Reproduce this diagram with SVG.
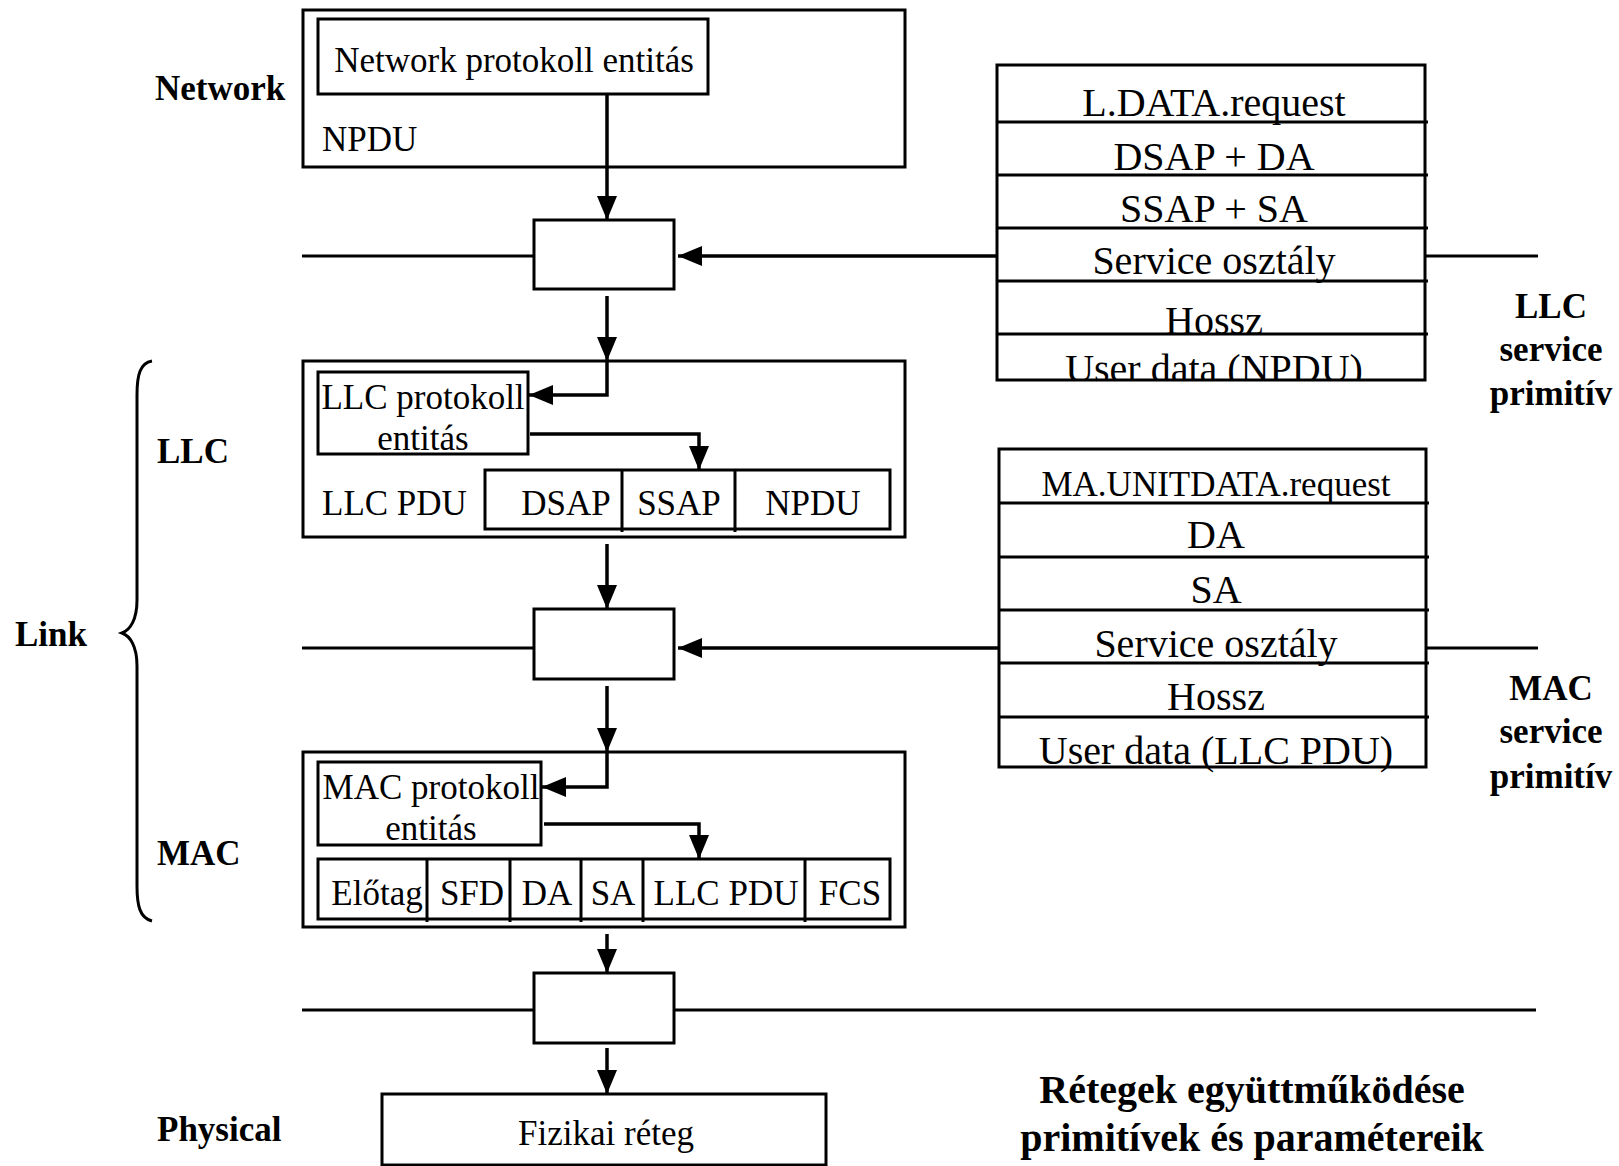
<svg xmlns="http://www.w3.org/2000/svg" width="1619" height="1166" viewBox="0 0 1619 1166">
  <style>
    .box { fill: none; stroke: #000; stroke-width: 3; }
    .ln { fill: none; stroke: #000; stroke-width: 3; }
    .arr { fill: none; stroke: #000; stroke-width: 3.5; marker-end: url(#head); }
    text { font-family: "Liberation Serif", "Times New Roman", serif; fill: #000; }
    .t35 { font-size: 35px; }
    .t40 { font-size: 40px; }
    .mid { text-anchor: middle; }
    .lbl { font-size: 35px; font-weight: bold; }
    .ttl { font-size: 40px; font-weight: bold; text-anchor: middle; }
  </style>
  <defs>
    <marker id="head" viewBox="0 0 24 20" refX="24" refY="10" markerWidth="24" markerHeight="20" markerUnits="userSpaceOnUse" orient="auto">
      <path d="M0,0 L24,10 L0,20 z" fill="#000"/>
    </marker>
  </defs>
  <rect width="1619" height="1166" fill="#fff"/>

  <!-- layer labels -->
  <g id="layer-labels">
    <text class="lbl" x="155" y="100">Network</text>
    <text class="lbl" x="157" y="463">LLC</text>
    <text class="lbl" x="15" y="646">Link</text>
    <text class="lbl" x="157" y="865">MAC</text>
    <text class="lbl" x="157" y="1141">Physical</text>
    <path class="ln" d="M152,361 C140,363 137,375 137,395 L137,600 C137,620 130,630 122,633 C130,636 137,646 137,666 L137,886 C137,906 140,918 152,921"/>
  </g>

  <!-- service access lines -->
  <g id="sap-lines">
    <line class="ln" x1="302" y1="256" x2="534" y2="256"/>
    <line class="ln" x1="1425" y1="256" x2="1538" y2="256"/>
    <line class="ln" x1="302" y1="648" x2="534" y2="648"/>
    <line class="ln" x1="1426" y1="648" x2="1538" y2="648"/>
    <line class="ln" x1="302" y1="1010" x2="534" y2="1010"/>
    <line class="ln" x1="674" y1="1010" x2="1536" y2="1010"/>
  </g>

  <!-- network layer -->
  <g id="network">
    <rect class="box" x="303" y="10" width="602" height="157"/>
    <rect class="box" x="318" y="19" width="390" height="75"/>
    <text class="t35 mid" x="514" y="72">Network protokoll entitás</text>
    <text class="t35" x="322" y="151">NPDU</text>
  </g>

  <g id="sap-llc"><rect class="box" x="534" y="220" width="140" height="69"/></g>
  <g id="sap-mac"><rect class="box" x="534" y="609" width="140" height="70"/></g>
  <g id="sap-phy"><rect class="box" x="534" y="973" width="140" height="70"/></g>

  <!-- LLC layer -->
  <g id="llc">
    <rect class="box" x="303" y="361" width="602" height="176"/>
    <rect class="box" x="318" y="372" width="210" height="82"/>
    <text class="t35 mid" x="423" y="409">LLC protokoll</text>
    <text class="t35 mid" x="423" y="450">entitás</text>
    <text class="t35" x="322" y="515">LLC PDU</text>
    <rect class="box" x="485" y="470" width="405" height="59"/>
    <line class="ln" x1="622" y1="470" x2="622" y2="532"/>
    <line class="ln" x1="735" y1="470" x2="735" y2="532"/>
    <text class="t35 mid" x="566" y="515">DSAP</text>
    <text class="t35 mid" x="679" y="515">SSAP</text>
    <text class="t35 mid" x="813" y="515">NPDU</text>
  </g>

  <!-- MAC layer -->
  <g id="mac">
    <rect class="box" x="303" y="752" width="602" height="175"/>
    <rect class="box" x="318" y="762" width="223" height="83"/>
    <text class="t35 mid" x="431" y="799">MAC protokoll</text>
    <text class="t35 mid" x="431" y="840">entitás</text>
    <rect class="box" x="318" y="859" width="572" height="60"/>
    <line class="ln" x1="427" y1="859" x2="427" y2="922"/>
    <line class="ln" x1="510" y1="859" x2="510" y2="922"/>
    <line class="ln" x1="581" y1="859" x2="581" y2="922"/>
    <line class="ln" x1="643" y1="859" x2="643" y2="922"/>
    <line class="ln" x1="805" y1="859" x2="805" y2="922"/>
    <text class="t35 mid" x="377" y="905">Előtag</text>
    <text class="t35 mid" x="472" y="905">SFD</text>
    <text class="t35 mid" x="547" y="905">DA</text>
    <text class="t35 mid" x="613" y="905">SA</text>
    <text class="t35 mid" x="726" y="905">LLC PDU</text>
    <text class="t35 mid" x="850" y="905">FCS</text>
  </g>

  <!-- physical layer -->
  <g id="physical">
    <rect class="box" x="382" y="1094" width="444" height="71"/>
    <text class="t35 mid" x="606" y="1145">Fizikai réteg</text>
  </g>

  <!-- LLC service primitive table -->
  <g id="llc-primitive">
    <text class="t40 mid" x="1214" y="116">L.DATA.request</text>
    <text class="t40 mid" x="1214" y="170">DSAP + DA</text>
    <text class="t40 mid" x="1214" y="222">SSAP + SA</text>
    <text class="t40 mid" x="1214" y="274">Service osztály</text>
    <text class="t40 mid" x="1214" y="334">Hossz</text>
    <text class="t40 mid" x="1214" y="382">User data (NPDU)</text>
    <rect x="990" y="381" width="440" height="12" fill="#fff"/>
    <rect class="box" x="997" y="65" width="428" height="315"/>
    <line class="ln" x1="997" y1="122" x2="1428" y2="122"/>
    <line class="ln" x1="997" y1="175" x2="1428" y2="175"/>
    <line class="ln" x1="997" y1="228" x2="1428" y2="228"/>
    <line class="ln" x1="997" y1="281" x2="1428" y2="281"/>
    <line class="ln" x1="997" y1="334" x2="1428" y2="334"/>
  </g>
  <g id="llc-primitive-label">
    <text class="lbl mid" x="1551" y="318">LLC</text>
    <text class="lbl mid" x="1551" y="361">service</text>
    <text class="lbl mid" x="1551" y="405">primitív</text>
  </g>

  <!-- MAC service primitive table -->
  <g id="mac-primitive">
    <text class="t35 mid" x="1216" y="496">MA.UNITDATA.request</text>
    <text class="t40 mid" x="1216" y="548">DA</text>
    <text class="t40 mid" x="1216" y="603">SA</text>
    <text class="t40 mid" x="1216" y="657">Service osztály</text>
    <text class="t40 mid" x="1216" y="710">Hossz</text>
    <text class="t40 mid" x="1216" y="764">User data (LLC PDU)</text>
    <rect class="box" x="999" y="449" width="427" height="318"/>
    <line class="ln" x1="999" y1="503" x2="1429" y2="503"/>
    <line class="ln" x1="999" y1="557" x2="1429" y2="557"/>
    <line class="ln" x1="999" y1="610" x2="1429" y2="610"/>
    <line class="ln" x1="999" y1="663" x2="1429" y2="663"/>
    <line class="ln" x1="999" y1="717" x2="1429" y2="717"/>
  </g>
  <g id="mac-primitive-label">
    <text class="lbl mid" x="1551" y="700">MAC</text>
    <text class="lbl mid" x="1551" y="743">service</text>
    <text class="lbl mid" x="1551" y="788">primitív</text>
  </g>

  <!-- caption -->
  <g id="caption">
    <text class="ttl" x="1252" y="1103">Rétegek együttműködése</text>
    <text class="ttl" x="1252" y="1151">primitívek és paramétereik</text>
  </g>

  <!-- connectors -->
  <g id="connectors">
    <path class="arr" d="M607,94 V220"/>
    <path class="arr" d="M607,296 V361"/>
    <path class="arr" d="M607,361 V395 H529"/>
    <path class="arr" d="M530,434 H699 V470"/>
    <path class="arr" d="M607,544 V609"/>
    <path class="arr" d="M607,686 V752"/>
    <path class="arr" d="M607,752 V787 H542"/>
    <path class="arr" d="M544,824 H699 V859"/>
    <path class="arr" d="M607,934 V973"/>
    <path class="arr" d="M607,1048 V1094"/>
    <path class="arr" d="M997,256 H678"/>
    <path class="arr" d="M999,648 H678"/>
  </g>
</svg>
